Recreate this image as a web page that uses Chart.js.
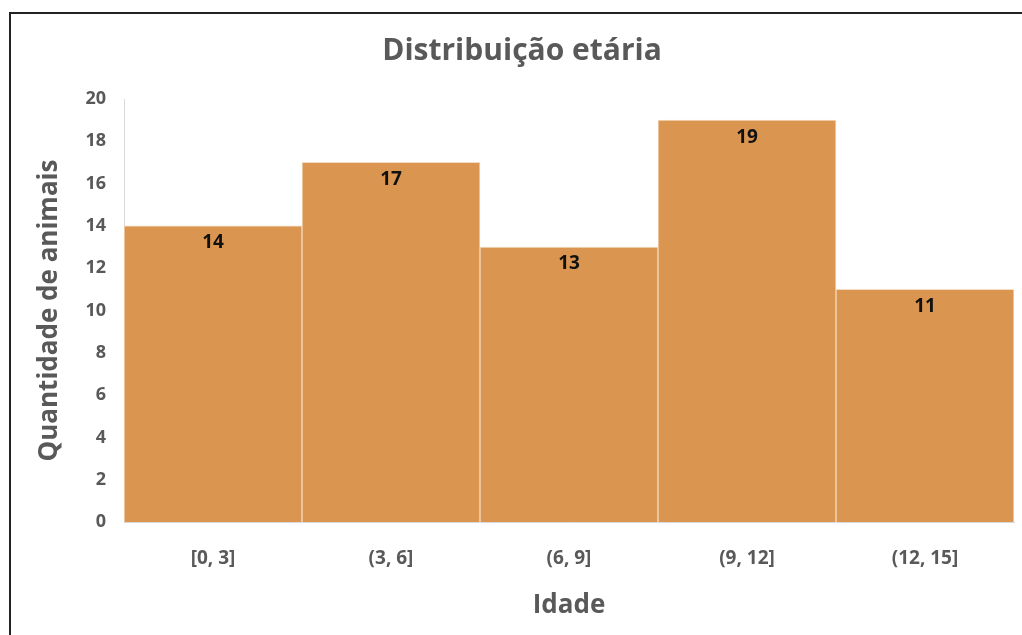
<!DOCTYPE html>
<html>
<head>
<meta charset="utf-8">
<script src="https://cdn.jsdelivr.net/npm/chart.js@4"></script>
<style>
  html, body { margin:0; padding:0; background:#fff; overflow:hidden; }
  #wrap { position:relative; width:1022px; height:635px; }
  #frame { position:absolute; left:9px; top:12px; width:1100px; height:700px; border-left:2px solid #222; border-top:2px solid #222; }
  canvas { position:absolute; left:0; top:0; }
</style>
</head>
<body>
<div id="wrap">
  <div id="frame"></div>
  <canvas id="chart" width="1022" height="635"></canvas>
</div>
<script>
const ageBins = ["[0, 3]", "(3, 6]", "(6, 9]", "(9, 12]", "(12, 15]"];
const animalCounts = [14, 17, 13, 19, 11];

const chartTitle = "Distribuição etária";
const xTitle = "Idade";
const yTitle = "Quantidade de animais";

const grey = "#595959";
const barColour = "#DA9651";
const fontFamily = "'Open Sans', 'Liberation Sans', sans-serif";

// writes the value just under the top of each bar
const barLabels = {
  id: 'barLabels',
  afterDatasetsDraw(chart) {
    const ctx = chart.ctx;
    const meta = chart.getDatasetMeta(0);
    ctx.save();
    ctx.font = "bold 19px " + fontFamily;
    ctx.fillStyle = "#111";
    ctx.textAlign = "center";
    ctx.textBaseline = "middle";
    meta.data.forEach((bar, i) => {
      ctx.fillText(String(animalCounts[i]), bar.x, bar.y + 17);
    });
    ctx.restore();
  }
};

new Chart(document.getElementById("chart"), {
  type: 'bar',
  data: {
    labels: ageBins,
    datasets: [{
      label: yTitle,
      data: animalCounts,
      backgroundColor: barColour,
      borderColor: "#f4dcc2",
      borderWidth: 1,
      barPercentage: 1,
      categoryPercentage: 1
    }]
  },
  options: {
    responsive: false,
    animation: false,
    layout: {padding: {left: 30, right: 8, top: 0, bottom: 10}},
    plugins: {
      legend: {display: false},
      tooltip: {enabled: false},
      title: {
        display: true, text: chartTitle, color: grey,
        font: {family: fontFamily, size: 30, weight: 'bold'},
        padding: {top: 33, bottom: 30}
      }
    },
    scales: {
      x: {
        grid: {display: false, drawTicks: false},
        border: {color: "#d9d9d9"},
        ticks: {color: grey, font: {family: fontFamily, size: 19, weight: 'bold'}, padding: 25},
        title: {display: true, text: xTitle, color: grey,
                font: {family: fontFamily, size: 26, weight: 'bold'}, padding: {top: 19}},
        afterFit: s => { s.height = 103; }
      },
      y: {
        min: 0, max: 20,
        grid: {display: false, drawTicks: false},
        border: {color: "#d9d9d9"},
        ticks: {stepSize: 2, color: grey, font: {family: fontFamily, size: 18, weight: 'bold'}, padding: 18},
        title: {display: true, text: yTitle, color: grey,
                font: {family: fontFamily, size: 26, weight: 'bold'}, padding: {bottom: 20}},
        afterFit: s => { s.width = 94; }
      }
    }
  },
  plugins: [barLabels]
});
</script>
</body>
</html>
